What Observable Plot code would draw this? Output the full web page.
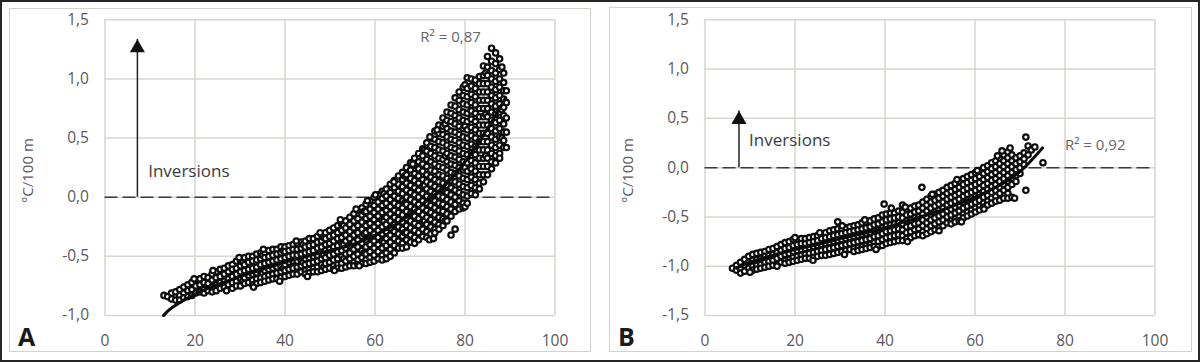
<!DOCTYPE html>
<html>
<head>
<meta charset="utf-8">
<script src="https://cdn.jsdelivr.net/npm/d3@7"></script>
<script src="https://cdn.jsdelivr.net/npm/@observablehq/plot@0.6"></script>
<style>
  html, body { margin: 0; padding: 0; background: #fff; }
  #wrap { position: relative; width: 1200px; height: 362px; background: #fff; overflow: hidden; }
  .panel { position: absolute; top: 0; }
  .box { position: absolute; border: 1.5px solid #d6d1cb; box-sizing: border-box; pointer-events: none; }
  .outer { position: absolute; left: 0; top: 0; width: 1200px; height: 362px; border: 2.5px solid #262626; box-sizing: border-box; pointer-events: none; }
</style>
</head>
<body>
<div id="wrap">
  <div id="pa" class="panel" style="left:0px"></div>
  <div id="pb" class="panel" style="left:600px"></div>
  <div class="box" style="left:9px;top:8px;width:582px;height:344px"></div>
  <div class="box" style="left:609px;top:7px;width:583px;height:345px"></div>
  <div class="outer"></div>
</div>
<script>
// ---------- data ----------
const xTicks = [0, 20, 40, 60, 80, 100];
const yTicksA = [-1.0, -0.5, 0.0, 0.5, 1.0, 1.5];
const yTicksB = [-1.5, -1.0, -0.5, 0.0, 0.5, 1.0, 1.5];

// Panel A scatter: each entry = [x, y1, y2, ...]
const colsA = [
[13.1,-0.83],[13.9,-0.84],[14.8,-0.81,-0.86],[15.7,-0.80,-0.87],[16.6,-0.78,-0.83,-0.87],
[17.5,-0.76,-0.81,-0.85],[18.4,-0.74,-0.79,-0.84],[19.3,-0.72,-0.78,-0.83],[20.2,-0.70,-0.75,-0.81],[21.1,-0.69,-0.74,-0.80],
[22.0,-0.67,-0.72,-0.78,-0.81],[22.9,-0.68,-0.73,-0.79],[23.8,-0.65,-0.70,-0.76,-0.80],[24.7,-0.63,-0.68,-0.74,-0.79],[25.6,-0.61,-0.67,-0.72,-0.77],
[26.5,-0.60,-0.65,-0.71,-0.76],[27.4,-0.58,-0.63,-0.69,-0.74],[28.3,-0.57,-0.61,-0.67,-0.72,-0.77],[29.2,-0.54,-0.60,-0.65,-0.71,-0.75],[30.1,-0.53,-0.58,-0.63,-0.69,-0.75],
[30.6,-0.55,-0.71],[31.0,-0.51,-0.57,-0.62,-0.68,-0.73],[31.9,-0.50,-0.55,-0.61,-0.66,-0.72],[32.8,-0.50,-0.54,-0.60,-0.65,-0.70,-0.74],[33.7,-0.48,-0.53,-0.59,-0.64,-0.69,-0.73],
[34.6,-0.47,-0.52,-0.57,-0.63,-0.68,-0.72],[35.0,-0.49,-0.64],[35.5,-0.47,-0.51,-0.56,-0.62,-0.67,-0.71],[36.4,-0.45,-0.50,-0.55,-0.61,-0.66,-0.70],[37.3,-0.44,-0.49,-0.54,-0.60,-0.65,-0.69],
[38.2,-0.44,-0.48,-0.53,-0.59,-0.64,-0.69],[39.1,-0.42,-0.47,-0.52,-0.58,-0.63,-0.68],[39.6,-0.45,-0.60],[40.0,-0.42,-0.46,-0.51,-0.57,-0.62,-0.67],[40.9,-0.41,-0.45,-0.50,-0.55,-0.61,-0.66],
[41.8,-0.40,-0.44,-0.49,-0.54,-0.60,-0.65],[42.7,-0.39,-0.44,-0.49,-0.54,-0.59,-0.65],[43.6,-0.38,-0.43,-0.48,-0.53,-0.58,-0.63],[44.0,-0.40,-0.55],[44.5,-0.37,-0.42,-0.47,-0.52,-0.57,-0.62,-0.65],
[45.4,-0.35,-0.41,-0.46,-0.51,-0.56,-0.61,-0.64],[46.3,-0.35,-0.40,-0.45,-0.50,-0.55,-0.60,-0.63],[47.2,-0.33,-0.38,-0.43,-0.49,-0.54,-0.59,-0.63],[48.1,-0.31,-0.37,-0.42,-0.47,-0.52,-0.57,-0.62],[48.6,-0.34,-0.49,-0.59],
[49.0,-0.30,-0.35,-0.40,-0.45,-0.51,-0.56,-0.61],[49.9,-0.28,-0.33,-0.39,-0.44,-0.49,-0.55,-0.60],[50.8,-0.26,-0.32,-0.37,-0.42,-0.48,-0.53,-0.58,-0.61],[51.7,-0.24,-0.30,-0.35,-0.41,-0.46,-0.52,-0.57,-0.60],[52.6,-0.23,-0.28,-0.34,-0.39,-0.45,-0.50,-0.56,-0.60],
[53.0,-0.24,-0.40,-0.52],[53.5,-0.20,-0.26,-0.32,-0.37,-0.43,-0.48,-0.54,-0.59],[54.4,-0.17,-0.23,-0.29,-0.35,-0.41,-0.47,-0.52,-0.58],[55.3,-0.14,-0.20,-0.26,-0.32,-0.38,-0.44,-0.50,-0.55,-0.58],[56.2,-0.11,-0.18,-0.24,-0.30,-0.36,-0.42,-0.48,-0.53,-0.57],
[57.1,-0.09,-0.15,-0.21,-0.27,-0.33,-0.39,-0.45,-0.51,-0.56],[57.6,-0.12,-0.31,-0.47],[58.0,-0.06,-0.12,-0.18,-0.24,-0.30,-0.36,-0.42,-0.48,-0.53,-0.56],[58.9,-0.03,-0.10,-0.16,-0.22,-0.28,-0.34,-0.40,-0.46,-0.51,-0.55],[59.8,0.00,-0.07,-0.13,-0.19,-0.25,-0.31,-0.37,-0.43,-0.49,-0.54],
[60.7,0.02,-0.04,-0.10,-0.16,-0.22,-0.28,-0.34,-0.40,-0.46,-0.52],[61.6,0.05,-0.01,-0.07,-0.13,-0.19,-0.25,-0.31,-0.37,-0.43,-0.49,-0.53],[62.0,0.03,-0.20,-0.38],[62.5,0.07,0.01,-0.05,-0.11,-0.17,-0.23,-0.29,-0.35,-0.41,-0.47,-0.52],[63.4,0.11,0.04,-0.02,-0.08,-0.14,-0.20,-0.26,-0.32,-0.38,-0.44,-0.50],
[64.3,0.14,0.08,0.01,-0.05,-0.11,-0.17,-0.23,-0.29,-0.35,-0.41,-0.47],[65.2,0.18,0.11,0.05,-0.01,-0.07,-0.13,-0.19,-0.25,-0.31,-0.37,-0.43],[66.1,0.21,0.15,0.09,0.03,-0.03,-0.09,-0.15,-0.21,-0.27,-0.33,-0.39,-0.43],[66.6,0.18,-0.05,-0.30],[67.0,0.25,0.19,0.12,0.06,0.00,-0.06,-0.12,-0.18,-0.24,-0.30,-0.36,-0.42],
[67.9,0.29,0.23,0.16,0.10,0.04,-0.02,-0.08,-0.14,-0.20,-0.26,-0.32,-0.38],[68.8,0.33,0.27,0.20,0.14,0.08,0.02,-0.04,-0.10,-0.16,-0.22,-0.28,-0.34,-0.39],[69.7,0.37,0.30,0.24,0.18,0.12,0.06,0.00,-0.06,-0.12,-0.18,-0.24,-0.30,-0.36],[70.6,0.41,0.35,0.28,0.22,0.15,0.09,0.03,-0.03,-0.09,-0.15,-0.21,-0.27,-0.33],[71.0,0.40,0.10,-0.20],
[71.5,0.46,0.39,0.32,0.26,0.19,0.13,0.07,0.01,-0.05,-0.11,-0.17,-0.23,-0.29,-0.34],[72.4,0.50,0.43,0.37,0.30,0.23,0.17,0.11,0.05,-0.01,-0.07,-0.13,-0.19,-0.25,-0.31],[73.3,0.56,0.49,0.42,0.35,0.28,0.22,0.15,0.09,0.03,-0.03,-0.09,-0.15,-0.21,-0.27,-0.30],[74.2,0.61,0.54,0.47,0.40,0.33,0.26,0.19,0.13,0.07,0.01,-0.05,-0.11,-0.17,-0.23,-0.27],[75.1,0.67,0.60,0.53,0.46,0.39,0.32,0.25,0.18,0.12,0.06,0.00,-0.06,-0.12,-0.18,-0.24],
[75.6,0.62,0.35,0.05,-0.20],[76.0,0.72,0.65,0.58,0.51,0.44,0.37,0.30,0.23,0.16,0.10,0.04,-0.02,-0.08,-0.14,-0.20],[76.9,0.78,0.71,0.64,0.56,0.49,0.42,0.35,0.28,0.21,0.14,0.08,0.02,-0.04,-0.10,-0.16,-0.32],[77.8,0.84,0.77,0.69,0.62,0.55,0.48,0.41,0.34,0.27,0.20,0.13,0.06,0.00,-0.06,-0.12,-0.27],[78.7,0.89,0.82,0.74,0.67,0.60,0.53,0.46,0.39,0.32,0.25,0.18,0.11,0.04,-0.03,-0.10],
[79.6,0.93,0.86,0.79,0.72,0.65,0.58,0.51,0.44,0.37,0.30,0.23,0.16,0.09,0.02,-0.05,-0.09],[80.0,0.95,0.60,0.25,-0.08],[80.5,1.01,0.92,0.85,0.78,0.71,0.64,0.57,0.50,0.43,0.36,0.29,0.22,0.15,0.08,0.01,-0.05],[81.4,1.00,0.94,0.87,0.80,0.73,0.66,0.59,0.52,0.45,0.38,0.31,0.24,0.17,0.10,0.03],[82.3,0.99,0.92,0.85,0.78,0.71,0.64,0.57,0.50,0.43,0.36,0.29,0.22,0.15,0.08,0.02],
[83.2,1.02,0.96,0.89,0.82,0.75,0.68,0.61,0.54,0.47,0.40,0.33,0.26,0.19,0.12,0.07],[84.1,1.11,1.03,0.96,0.89,0.82,0.75,0.68,0.61,0.54,0.47,0.40,0.33,0.26,0.19,0.13],[84.6,1.05,0.70,0.35],[85.0,1.19,1.10,1.03,0.96,0.89,0.82,0.75,0.68,0.61,0.54,0.47,0.40,0.33,0.26,0.19],[85.9,1.26,1.15,1.07,1.00,0.93,0.86,0.79,0.72,0.65,0.58,0.51,0.44,0.37,0.30,0.24],
[86.8,1.22,1.13,1.05,0.98,0.91,0.84,0.77,0.70,0.63,0.56,0.49,0.42,0.35,0.29],[87.7,1.17,1.08,1.00,0.93,0.86,0.79,0.72,0.65,0.58,0.51,0.44,0.37,0.33],[88.2,1.10,0.74,0.50],[88.6,1.05,0.97,0.90,0.83,0.76,0.69,0.62,0.55,0.48,0.42],[89.2,0.90,0.80,0.67,0.55,0.42]
];
// Panel A ragged-edge points [x, y]
const edgeA = [[19.8,-0.69],[24.0,-0.62],[27.0,-0.79],[29.8,-0.51],[33.0,-0.76],[35.2,-0.44],[38.8,-0.71],[42.5,-0.37],[45.0,-0.67],[47.8,-0.30],[51.0,-0.62],[52.3,-0.19],[55.8,-0.10],[56.5,-0.58],[58.3,-0.03],[60.1,0.02],[64.2,0.13],[68.4,0.28],[72.1,-0.36],[72.2,0.51],[73.0,-0.35],[73.8,0.57]];

// Panel A trend line [x, y]
const trendA = [[13,-1.00],[15,-0.93],[20,-0.82],[25,-0.74],[30,-0.67],[35,-0.61],[40,-0.55],[45,-0.50],[50,-0.45],[55,-0.40],[60,-0.32],[65,-0.22],[70,-0.08],[75,0.08],[80,0.30],[85,0.58],[89,0.84]];

// Panel B scatter: each entry = [x, y1, y2, ...]
const colsB = [
[6.1,-1.02],[7.0,-0.99,-1.04],[7.9,-0.96,-1.02,-1.07],[8.8,-0.93,-0.99,-1.05],[9.7,-0.90,-0.96,-1.02],
[10.6,-0.88,-0.94,-1.00,-1.04],[11.5,-0.87,-0.93,-0.99,-1.03],[12.4,-0.86,-0.92,-0.98,-1.02],[13.3,-0.85,-0.90,-0.96,-1.01],[14.2,-0.83,-0.89,-0.95,-1.00],
[15.1,-0.82,-0.88,-0.94,-0.99],[16.0,-0.80,-0.86,-0.92,-0.98],[16.9,-0.78,-0.84,-0.90,-0.96],[17.8,-0.76,-0.82,-0.88,-0.94,-0.97],[18.7,-0.75,-0.81,-0.87,-0.93,-0.96],
[19.6,-0.73,-0.79,-0.85,-0.91,-0.95],[20.5,-0.73,-0.78,-0.84,-0.90,-0.94],[21.4,-0.72,-0.77,-0.83,-0.89,-0.93],[22.3,-0.72,-0.77,-0.82,-0.88,-0.92],[23.2,-0.71,-0.76,-0.81,-0.87,-0.92],
[24.1,-0.70,-0.75,-0.80,-0.86,-0.91],[25.0,-0.69,-0.74,-0.79,-0.85,-0.90],[25.9,-0.67,-0.72,-0.78,-0.84,-0.89],[26.8,-0.66,-0.71,-0.77,-0.83,-0.89],[27.7,-0.64,-0.70,-0.76,-0.82,-0.88],
[28.6,-0.63,-0.69,-0.75,-0.81,-0.87],[29.5,-0.55,-0.62,-0.68,-0.74,-0.80,-0.86],[30.4,-0.62,-0.67,-0.73,-0.79,-0.85],[31.3,-0.61,-0.66,-0.72,-0.78,-0.84],[32.2,-0.60,-0.65,-0.71,-0.77,-0.83],
[33.1,-0.59,-0.64,-0.70,-0.76,-0.82,-0.85],[34.0,-0.58,-0.63,-0.69,-0.75,-0.81,-0.84],[34.9,-0.56,-0.62,-0.68,-0.74,-0.80,-0.83],[35.8,-0.55,-0.61,-0.67,-0.73,-0.79,-0.82],[36.7,-0.54,-0.60,-0.66,-0.72,-0.78,-0.81],
[37.6,-0.52,-0.58,-0.64,-0.70,-0.76,-0.80],[38.5,-0.51,-0.57,-0.63,-0.69,-0.75,-0.80],[39.4,-0.48,-0.55,-0.61,-0.67,-0.73,-0.79],[39.8,-0.37],[40.3,-0.47,-0.53,-0.59,-0.65,-0.71,-0.77],
[41.2,-0.46,-0.52,-0.58,-0.64,-0.70,-0.76],[41.4,-0.41],[42.1,-0.46,-0.51,-0.57,-0.63,-0.69,-0.75],[43.0,-0.44,-0.50,-0.56,-0.62,-0.68,-0.74],[43.9,-0.38,-0.45,-0.51,-0.57,-0.63,-0.69,-0.74],
[44.8,-0.42,-0.48,-0.54,-0.60,-0.66,-0.72],[45.7,-0.41,-0.47,-0.53,-0.59,-0.65,-0.71],[46.6,-0.39,-0.45,-0.51,-0.57,-0.63,-0.69],[47.5,-0.38,-0.44,-0.50,-0.56,-0.62,-0.68],[48.2,-0.20],
[48.4,-0.35,-0.41,-0.47,-0.53,-0.59,-0.65,-0.69],[49.3,-0.32,-0.38,-0.44,-0.50,-0.56,-0.62,-0.67],[50.2,-0.29,-0.35,-0.41,-0.47,-0.53,-0.59,-0.65],[51.1,-0.27,-0.33,-0.39,-0.45,-0.51,-0.57,-0.63],[52.0,-0.25,-0.31,-0.37,-0.43,-0.49,-0.55,-0.61],
[52.9,-0.23,-0.29,-0.35,-0.41,-0.47,-0.53,-0.59],[53.8,-0.20,-0.26,-0.32,-0.38,-0.44,-0.50,-0.56],[54.7,-0.18,-0.24,-0.30,-0.36,-0.42,-0.48,-0.54,-0.57],[55.6,-0.16,-0.22,-0.28,-0.34,-0.40,-0.46,-0.52,-0.55],[56.5,-0.14,-0.20,-0.26,-0.32,-0.38,-0.44,-0.50,-0.54],
[57.4,-0.11,-0.17,-0.23,-0.29,-0.35,-0.41,-0.47,-0.51],[58.3,-0.09,-0.15,-0.21,-0.27,-0.33,-0.39,-0.45,-0.49],[59.2,-0.07,-0.13,-0.19,-0.25,-0.31,-0.37,-0.43,-0.47],[60.1,-0.05,-0.11,-0.17,-0.23,-0.29,-0.35,-0.41,-0.45],[61.0,-0.03,-0.09,-0.15,-0.21,-0.27,-0.33,-0.39,-0.43],
[61.9,0.00,-0.06,-0.12,-0.18,-0.24,-0.30,-0.36,-0.40],[62.8,0.02,-0.04,-0.10,-0.16,-0.22,-0.28,-0.34,-0.38],[63.7,0.05,-0.01,-0.07,-0.13,-0.19,-0.25,-0.31,-0.36],[64.6,0.07,0.01,-0.05,-0.11,-0.17,-0.23,-0.29,-0.34],[65.5,0.10,0.04,-0.02,-0.08,-0.14,-0.20,-0.26,-0.33],
[66.4,0.13,0.07,0.01,-0.05,-0.11,-0.17,-0.23,-0.31],[67.3,0.16,0.10,0.04,-0.02,-0.08,-0.14,-0.20,-0.26,-0.31],[67.8,0.20],[68.2,0.13,0.07,0.01,-0.05,-0.11,-0.17,-0.30],[68.8,-0.31],
[69.1,0.10,0.04,-0.02,-0.08,-0.14],[70.0,0.12,0.06,0.00,-0.06],[70.9,0.15,0.09,0.03],[71.3,0.31,-0.23],[71.8,0.22,0.13],
[72.5,0.18],[73.3,0.21],[75.1,0.05]
];
// Panel B ragged-edge points [x, y]
const edgeB = [[10.0,-1.06],[16.0,-1.00],[20.0,-0.71],[24.0,-0.94],[25.5,-0.66],[30.5,-0.59],[31.0,-0.88],[35.5,-0.53],[38.0,-0.83],[44.5,-0.40],[45.0,-0.75],[50.5,-0.27],[52.0,-0.64],[56.0,-0.12],[57.0,-0.55],[60.5,-0.03],[62.0,-0.42],[65.0,0.12],[66.0,0.17]];

// Panel B trend line [x, y]
const trendB = [[7,-1.02],[10,-0.96],[15,-0.89],[20,-0.83],[25,-0.78],[30,-0.72],[35,-0.67],[40,-0.61],[45,-0.54],[50,-0.47],[55,-0.39],[60,-0.30],[65,-0.19],[70,-0.04],[75,0.20]];

// annotations (data coordinates)
const arrowA = [{x: 7.2, tip: 1.335}];
const arrowB = [{x: 7.55, tip: 0.576}];
const invLabelA = [{x: 9.6, y: 0.215, text: "Inversions"}];
const invLabelB = [{x: 9.8, y: 0.27, text: "Inversions"}];
const r2LabelA = [{x: 76.8, y: 1.356, text: "R² = 0,87"}];
const r2LabelB = [{x: 80.0, y: 0.228, text: "R² = 0,92"}];
const yTitle = "°C/100 m";

// ---------- drawing ----------
const fmt = d => d.toFixed(1).replace(".", ",");
const gridColor = "#d9d4ce";
const textColor = "#595959";

function panel({cols, edge, trend, yTicks, arrow, inv, r2, r2Anchor, letter}) {
  const pts = cols.flatMap(([x, ...ys]) => ys.map(y => ({x, y})))
    .concat(edge.map(([x, y]) => ({x, y})));
  return Plot.plot({
    width: 600,
    height: 362,
    marginLeft: 104.5,
    marginRight: 45.5,
    marginTop: 19.3,
    marginBottom: 47,
    style: {fontFamily: "'Open Sans', sans-serif", fontSize: "15.5px", color: textColor, background: "transparent"},
    x: {domain: [0, 100]},
    y: {domain: [yTicks[0], yTicks[yTicks.length - 1]]},
    marks: [
      Plot.gridX(xTicks, {stroke: gridColor, strokeOpacity: 1, strokeWidth: 1.5}),
      Plot.gridY(yTicks, {stroke: gridColor, strokeOpacity: 1, strokeWidth: 1.5}),
      Plot.axisX(xTicks, {tickSize: 0, tickPadding: 19, label: null, fill: textColor}),
      Plot.axisY(yTicks, {tickSize: 0, tickPadding: 16, tickFormat: fmt, label: null, fill: textColor}),
      Plot.ruleY([0], {stroke: "#3a3a3a", strokeWidth: 1.5, strokeDasharray: "13,5"}),
      Plot.dot(pts, {x: "x", y: "y", r: 2.7, fill: "white", stroke: "#0d0d0d", strokeWidth: 2.2}),
      Plot.line(trend, {x: d => d[0], y: d => d[1], curve: "natural", stroke: "#0a0a0a", strokeWidth: 3}),
      Plot.ruleX(arrow, {x: "x", y1: 0, y2: "tip", stroke: "#222", strokeWidth: 1.5}),
      Plot.dot(arrow, {x: "x", y: "tip", symbol: "triangle", r: 5.6, fill: "#111", stroke: "none", dy: 8.66}),
      Plot.text(inv, {x: "x", y: "y", text: "text", textAnchor: "start", lineAnchor: "middle", fontSize: 17, fill: "#3c3c3c"}),
      Plot.text(r2, {x: "x", y: "y", text: "text", textAnchor: r2Anchor, lineAnchor: "middle", fontSize: 15, fill: "#666"}),
      Plot.text([yTitle], {text: d => d, frameAnchor: "left", dx: -76.5, dy: 3, rotate: -90, textAnchor: "middle", lineAnchor: "middle", fontSize: 15, fill: textColor}),
      Plot.text([letter], {text: d => d, frameAnchor: "bottom-left", dx: -87, dy: 30, textAnchor: "start", lineAnchor: "bottom", fontSize: 25, fontWeight: "bold", fill: "#1a1a1a"})
    ]
  });
}

document.getElementById("pa").append(panel({
  cols: colsA, edge: edgeA, trend: trendA, yTicks: yTicksA, arrow: arrowA, inv: invLabelA, r2: r2LabelA, r2Anchor: "middle", letter: "A"
}));
document.getElementById("pb").append(panel({
  cols: colsB, edge: edgeB, trend: trendB, yTicks: yTicksB, arrow: arrowB, inv: invLabelB, r2: r2LabelB, r2Anchor: "start", letter: "B"
}));
</script>
</body>
</html>
